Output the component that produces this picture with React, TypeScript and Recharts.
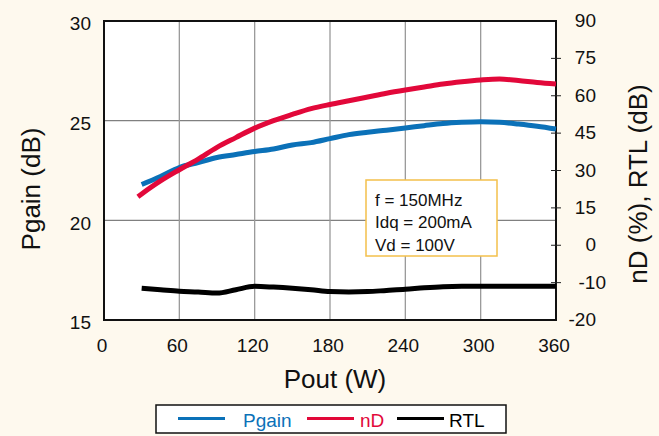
import {
  CartesianGrid,
  Line,
  LineChart,
  ReferenceArea,
  XAxis,
  YAxis,
} from 'recharts';

// Pout (W) sample points
const poutW = [
  27, 30, 45, 60, 75, 90, 105, 120, 135, 150, 165, 180, 195, 210, 225, 240,
  255, 270, 285, 300, 315, 330, 345, 360,
];
const pgainDb = [
  null, 21.8, 22.2, 22.65, 22.9, 23.15, 23.3, 23.45, 23.58, 23.78, 23.9, 24.1,
  24.3, 24.42, 24.52, 24.63, 24.75, 24.86, 24.92, 24.95, 24.92, 24.83, 24.72,
  24.58,
];
const ndPct = [
  19.5, 20.6, 25.8, 30.3, 34.6, 39.3, 43.2, 47, 50, 52.5, 54.8, 56.5, 58, 59.5,
  61, 62.3, 63.5, 64.7, 65.6, 66.3, 66.7, 66.1, 65.3, 64.7,
];
const rtlDb = [
  null, -11.5, -11.9, -12.3, -12.5, -12.8, -11.9, -11.0, -11.2, -11.5, -11.9,
  -12.4, -12.5, -12.4, -12.1, -11.8, -11.4, -11.1, -11.0, -11.0, -11.0, -11.0,
  -11.0, -11.0,
];

const xTicks = [0, 60, 120, 180, 240, 300, 360];
const leftTicks = [15, 20, 25, 30];
// right axis labels are evenly spaced on the sheet, but below 0 a step is 10 not 15
const rightLabels = [-20, -10, 0, 15, 30, 45, 60, 75, 90];

const toRight = (v: number) => (v < 0 ? v * 1.5 : v);
const fromRight = (a: number) => Math.round(a < 0 ? a / 1.5 : a);

const rows = poutW.map((w, i) => ({
  pout: w,
  pgain: pgainDb[i],
  nd: ndPct[i],
  rtl: rtlDb[i],
}));

const series = [
  { name: 'Pgain', color: '#0B71B8' },
  { name: 'nD', color: '#E2083A' },
  { name: 'RTL', color: '#000000' },
];

const FONT = '"Liberation Sans", Arial, Helvetica, sans-serif';
const PLOT_L = 104;
const PLOT_R = 556;
const PLOT_B = 320;

const XTick = ({ x, payload }: any) => (
  <text x={x - 2} y={PLOT_B + 31.5} textAnchor="middle" fontSize={19} fill="#111" fontFamily={FONT}>
    {payload.value}
  </text>
);

const LeftTick = ({ y, payload }: any) => (
  <text x={PLOT_L - 13} y={y + 9.3} textAnchor="end" fontSize={19} fill="#111" fontFamily={FONT}>
    {payload.value}
  </text>
);

const RightTick = ({ y, payload }: any) => {
  const edge = payload.value === -30 || payload.value === 90;
  // the sheet has its "-10" label nudged to the right
  const nudge = payload.value === -15 ? 10 : 0;
  return (
    <g>
      {!edge && <line x1={PLOT_R - 5} x2={PLOT_R + 5} y1={y} y2={y} stroke="#222" strokeWidth={1} />}
      <text x={PLOT_R + 40 + nudge} y={y + 6} textAnchor="end" fontSize={19} fill="#111" fontFamily={FONT}>
        {fromRight(payload.value)}
      </text>
    </g>
  );
};

export default function App() {
  return (
    <div
      style={{
        position: 'absolute',
        left: 0,
        top: 0,
        width: 659,
        height: 436,
        background: '#FEF9EE',
        fontFamily: FONT,
      }}
    >
      <LineChart
        width={659}
        height={436}
        data={rows}
        margin={{ top: 21, right: 0, bottom: 0, left: 0 }}
      >
        <CartesianGrid yAxisId="left" vertical={false} fill="#fff" stroke="#808080" strokeWidth={1.3} />
        <CartesianGrid yAxisId="left" horizontal={false} stroke="#9a9a9a" strokeWidth={1.3} />
        <XAxis
          dataKey="pout"
          type="number"
          domain={[0, 360]}
          ticks={xTicks}
          height={116}
          axisLine={false}
          tickLine={false}
          tick={<XTick />}
        />
        <YAxis
          yAxisId="left"
          domain={[15, 30]}
          ticks={leftTicks}
          width={104}
          axisLine={false}
          tickLine={false}
          tick={<LeftTick />}
        />
        <YAxis
          yAxisId="right"
          orientation="right"
          domain={[-30, 90]}
          ticks={rightLabels.map(toRight)}
          width={103}
          axisLine={false}
          tickLine={false}
          tick={<RightTick />}
        />
        <ReferenceArea
          yAxisId="left"
          x1={0}
          x2={360}
          y1={15}
          y2={30}
          fill="none"
          stroke="#111"
          strokeWidth={2}
        />
        <Line
          yAxisId="left"
          type="monotone"
          dataKey="pgain"
          stroke={series[0].color}
          strokeWidth={5}
          dot={false}
          isAnimationActive={false}
        />
        <Line
          yAxisId="right"
          type="monotone"
          dataKey={(d: any) => toRight(d.nd)}
          stroke={series[1].color}
          strokeWidth={5}
          dot={false}
          isAnimationActive={false}
        />
        <Line
          yAxisId="right"
          type="monotone"
          dataKey={(d: any) => (d.rtl == null ? null : toRight(d.rtl))}
          stroke={series[2].color}
          strokeWidth={5}
          dot={false}
          isAnimationActive={false}
        />
      </LineChart>

      <svg
        width={659}
        height={436}
        style={{ position: 'absolute', left: 0, top: 0, pointerEvents: 'none' }}
        fontFamily={FONT}
      >
        <text transform="translate(40,189) rotate(-90)" textAnchor="middle" fontSize={26} fill="#111">
          Pgain (dB)
        </text>
        <text x={335} y={388} textAnchor="middle" fontSize={26} fill="#111">
          Pout (W)
        </text>
        <text transform="translate(647,184) rotate(-90)" textAnchor="middle" fontSize={26} fill="#111">
          nD (%), RTL (dB)
        </text>

        <rect x={366} y={180} width={131} height={76} fill="#fff" stroke="#F3C04B" strokeWidth={1.5} />
        <text x={375} y={205.5} fontSize={17} fill="#111">f = 150MHz</text>
        <text x={375} y={228} fontSize={17} fill="#111">Idq = 200mA</text>
        <text x={375} y={250.5} fontSize={17} fill="#111">Vd = 100V</text>

        <rect x={156} y={405} width={350} height={28} fill="#fff" stroke="#111" strokeWidth={1.5} />
        {series.map((s, i) => {
          const lx = [178, 307, 397][i];
          const tx = [243, 360, 449][i];
          return (
            <g key={s.name}>
              <line x1={lx} x2={lx + 47} y1={418.5} y2={418.5} stroke={s.color} strokeWidth={3} />
              <text x={tx} y={427} fontSize={19} fill={s.color}>
                {s.name}
              </text>
            </g>
          );
        })}
      </svg>
    </div>
  );
}
